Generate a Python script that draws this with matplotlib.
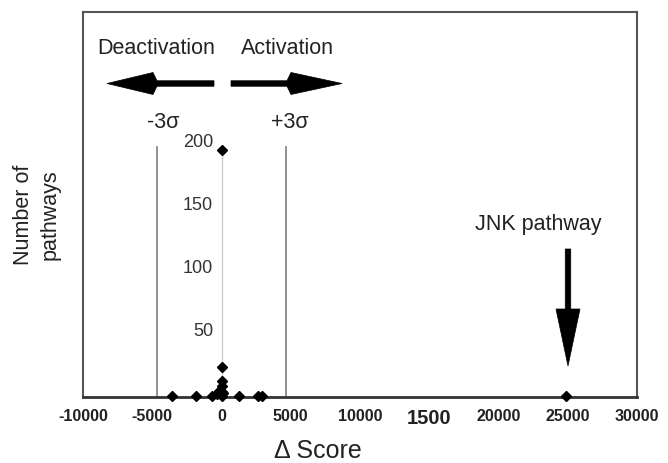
import matplotlib
matplotlib.use("Agg")
import matplotlib.pyplot as plt
from matplotlib.patches import Polygon
import numpy as np

# Data
delta_score = [-3600, -1840, -710, -330, -150, 0, 0, 0, 0, 0, 0, 120, 1260, 2600, 2900, 24900]
n_pathways = [1, 1, 1, 2, 5, 1, 4, 9, 13, 24, 196, 3, 1, 1, 1, 1]
sigma_lines = [-4660, 4660]
x_ticks = [-10000, -5000, 0, 5000, 10000, 15000, 20000, 25000, 30000]
x_tick_labels = ["-10000", "-5000", "0", "5000", "10000", "1500", "20000", "25000", "30000"]
y_ticks = [50, 100, 150, 200]

plt.rcParams['font.family'] = ['Liberation Sans', 'DejaVu Sans']

W, H = 668, 464
fig = plt.figure(figsize=(W/100, H/100), dpi=100)
ax = fig.add_axes([83/W, 66/H, 554/W, 385/H])
ax.set_xlim(-10000, 30000)
ax.set_ylim(0, 305)

for s in ax.spines.values():
    s.set_color('#555555')
    s.set_linewidth(1.5)
ax.spines['bottom'].set_color('#333333')
ax.spines['bottom'].set_linewidth(2)

# sigma lines and zero line
for xv in sigma_lines:
    ax.plot([xv, xv], [0, 198], color='#888888', lw=1.3, zorder=1)
ax.plot([0, 0], [0, 198], color='#cccccc', lw=1.0, zorder=1)

ax.plot(delta_score, n_pathways, linestyle='none', marker='D', markersize=5.5,
        color='black', zorder=3, clip_on=False)

ax.set_xticks(x_ticks)
ax.set_xticklabels(x_tick_labels)
for lbl in ax.get_xticklabels():
    lbl.set_fontweight('bold')
    lbl.set_fontsize(11.5)
    lbl.set_color('#222222')
    if lbl.get_text() == "1500":
        lbl.set_fontsize(14.5)
ax.tick_params(axis='x', length=0, pad=8)
ax.set_yticks([])

for yv in y_ticks:
    ax.annotate(str(yv), xy=(-600, yv), xytext=(0, 2.5), textcoords='offset points',
                ha='right', va='center', fontsize=13, color='#333333')

fig.text(318/W, 1 - 451/H, "Δ Score", ha='center', va='center', fontsize=18, color='#222222')
fig.text(37/W, 1 - 215/H, "Number of\npathways", rotation=90, ha='center', va='center',
         fontsize=15.5, color='#222222', linespacing=1.35)

# Top annotations
fig.text(156/W, 1 - 48/H, "Deactivation", ha='center', va='center', fontsize=15.5, color='#222222')
fig.text(287/W, 1 - 48/H, "Activation", ha='center', va='center', fontsize=15.5, color='#222222')
fig.text(163/W, 1 - 122/H, "-3σ", ha='center', va='center', fontsize=15.5, color='#222222')
fig.text(290/W, 1 - 122/H, "+3σ", ha='center', va='center', fontsize=15.5, color='#222222')
fig.text(538/W, 1 - 225/H, "JNK pathway", ha='center', va='center', fontsize=15.5, color='#222222')


def arrow(tail, tip, shaft_w, head_w, head_len, sweep=0.0):
    t = np.array(tail, float)
    p = np.array(tip, float)
    d = (p - t) / np.linalg.norm(p - t)
    n = np.array([-d[1], d[0]])
    base = p - d * head_len
    pts = [t + n * shaft_w / 2, base + n * shaft_w / 2,
           base + n * head_w / 2 - d * sweep, p,
           base - n * head_w / 2 - d * sweep, base - n * shaft_w / 2,
           t - n * shaft_w / 2]
    pts = [(x / W, 1 - y / H) for x, y in pts]
    fig.patches.append(Polygon(pts, closed=True, transform=fig.transFigure,
                               facecolor='black', edgecolor='black', lw=0.5))


arrow((214, 84.5), (107, 84.5), 5.5, 22, 50, sweep=-4)
arrow((231, 84.5), (342, 84.5), 5.5, 22, 55, sweep=-4)
arrow((568, 250), (568, 367), 5.5, 24, 57, sweep=0)

fig.savefig("out.png", dpi=100)
